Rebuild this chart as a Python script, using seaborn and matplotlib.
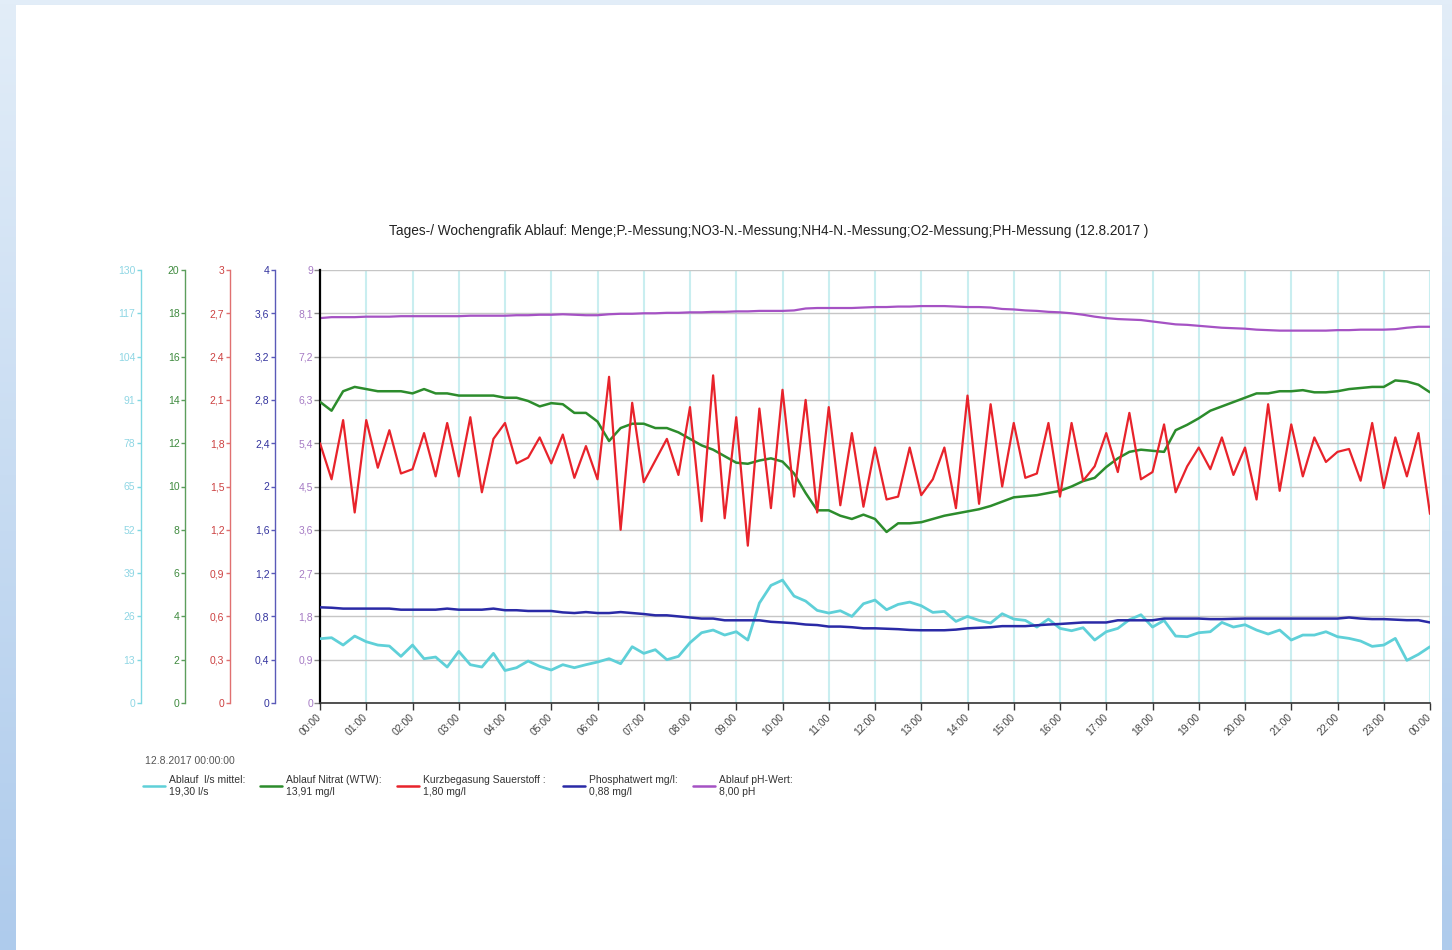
import numpy as np
import pandas as pd
import seaborn as sns
import matplotlib.pyplot as plt
import matplotlib.dates as mdates
from matplotlib.lines import Line2D
from matplotlib.patches import Rectangle
from matplotlib.colors import LinearSegmentedColormap
from matplotlib.ticker import FuncFormatter

# 15-minute readings for 12.8.2017, 00:00 .. 24:00
zeit = pd.date_range("2017-08-12 00:00", periods=97, freq="15min")

ablauf_ls = [19.3, 19.6, 17.4, 20.1, 18.4, 17.4, 17.1, 14.0, 17.4, 13.3,
             13.8, 10.8, 15.5, 11.5, 10.8, 14.9, 9.75, 10.6, 12.6, 11.0,
             9.9, 11.5, 10.6, 11.5, 12.3, 13.3, 11.8, 16.9, 14.9, 16.0,
             13.0, 14.0, 18.1, 21.1, 21.9, 20.4, 21.4, 18.9, 30.0, 35.3,
             36.9, 32.1, 30.6, 27.8, 27.0, 27.7, 26.0, 29.8, 30.9, 28.0,
             29.6, 30.3, 29.2, 27.2, 27.5, 24.5, 26.0, 24.8, 24.0, 26.8,
             25.2, 24.8, 22.8, 25.2, 22.4, 21.7, 22.6, 18.9, 21.4, 22.4,
             25.0, 26.5, 22.8, 24.8, 20.1, 19.9, 21.1, 21.4, 24.2, 22.8,
             23.5, 21.9, 20.7, 21.9, 18.9, 20.4, 20.4, 21.4, 19.9, 19.4,
             18.6, 17.0, 17.4, 19.4, 12.8, 14.6, 16.9]

nitrat = [13.91, 13.5, 14.4, 14.6, 14.5, 14.4, 14.4, 14.4, 14.3, 14.5,
          14.3, 14.3, 14.2, 14.2, 14.2, 14.2, 14.1, 14.1, 13.95, 13.7,
          13.85, 13.8, 13.4, 13.4, 13.0, 12.1, 12.7, 12.9, 12.9, 12.7,
          12.7, 12.5, 12.2, 11.9, 11.7, 11.4, 11.1, 11.05, 11.2, 11.3,
          11.15, 10.6, 9.7, 8.9, 8.9, 8.65, 8.5, 8.7, 8.5, 7.9,
          8.3, 8.3, 8.35, 8.5, 8.65, 8.75, 8.85, 8.95, 9.1, 9.3,
          9.5, 9.55, 9.6, 9.7, 9.8, 10.0, 10.25, 10.4, 10.9, 11.3,
          11.6, 11.7, 11.65, 11.6, 12.6, 12.85, 13.15, 13.5, 13.7, 13.9,
          14.1, 14.3, 14.3, 14.4, 14.4, 14.45, 14.35, 14.35, 14.4, 14.5,
          14.55, 14.6, 14.6, 14.9, 14.85, 14.7, 14.35]

sauerstoff = [1.80, 1.55, 1.96, 1.32, 1.96, 1.63, 1.89, 1.59, 1.62, 1.87,
              1.57, 1.94, 1.57, 1.98, 1.46, 1.83, 1.94, 1.66, 1.70, 1.84,
              1.66, 1.86, 1.56, 1.78, 1.55, 2.26, 1.20, 2.08, 1.53, 1.68,
              1.83, 1.58, 2.05, 1.26, 2.27, 1.28, 1.98, 1.09, 2.04, 1.35,
              2.17, 1.43, 2.10, 1.32, 2.05, 1.37, 1.87, 1.36, 1.77, 1.41,
              1.43, 1.77, 1.44, 1.55, 1.77, 1.35, 2.13, 1.38, 2.07, 1.50,
              1.94, 1.56, 1.59, 1.94, 1.43, 1.94, 1.54, 1.64, 1.87, 1.60,
              2.01, 1.55, 1.60, 1.93, 1.46, 1.64, 1.77, 1.62, 1.84, 1.58,
              1.77, 1.41, 2.07, 1.47, 1.93, 1.57, 1.84, 1.67, 1.74, 1.76,
              1.54, 1.94, 1.49, 1.84, 1.57, 1.87, 1.31]

phosphat = [0.884, 0.88, 0.872, 0.872, 0.872, 0.872, 0.872, 0.862, 0.862, 0.862,
            0.862, 0.872, 0.862, 0.862, 0.862, 0.872, 0.857, 0.857, 0.85, 0.85,
            0.85, 0.837, 0.831, 0.84, 0.831, 0.831, 0.84, 0.831, 0.822, 0.81,
            0.81, 0.80, 0.79, 0.78, 0.78, 0.764, 0.764, 0.764, 0.764, 0.75,
            0.744, 0.737, 0.725, 0.72, 0.706, 0.706, 0.70, 0.69, 0.69, 0.686,
            0.682, 0.675, 0.672, 0.672, 0.672, 0.678, 0.69, 0.695, 0.70, 0.71,
            0.71, 0.71, 0.718, 0.725, 0.73, 0.737, 0.744, 0.744, 0.744, 0.764,
            0.764, 0.764, 0.764, 0.78, 0.78, 0.78, 0.78, 0.775, 0.775, 0.778,
            0.78, 0.78, 0.78, 0.78, 0.78, 0.78, 0.78, 0.78, 0.78, 0.79,
            0.78, 0.775, 0.775, 0.77, 0.765, 0.765, 0.744]

ph_wert = [8.00, 8.02, 8.02, 8.02, 8.03, 8.03, 8.03, 8.04,
           8.04, 8.04, 8.04, 8.04, 8.04, 8.05, 8.05, 8.05,
           8.05, 8.06, 8.06, 8.07, 8.07, 8.08, 8.07, 8.06,
           8.06, 8.08, 8.09, 8.09, 8.10, 8.10, 8.11, 8.11,
           8.12, 8.12, 8.13, 8.13, 8.14, 8.14, 8.15, 8.15,
           8.15, 8.16, 8.20, 8.21, 8.21, 8.21, 8.21, 8.22,
           8.23, 8.23, 8.24, 8.24, 8.25, 8.25, 8.25, 8.24,
           8.23, 8.23, 8.22, 8.19, 8.18, 8.16, 8.15, 8.13,
           8.12, 8.10, 8.07, 8.03, 8.00, 7.98, 7.97, 7.96,
           7.93, 7.90, 7.87, 7.86, 7.84, 7.82, 7.80, 7.79,
           7.78, 7.76, 7.75, 7.74, 7.74, 7.74, 7.74, 7.74,
           7.75, 7.75, 7.76, 7.76, 7.76, 7.77, 7.80, 7.82,
           7.82]

df = pd.DataFrame({"zeit": zeit, "ablauf": ablauf_ls, "nitrat": nitrat,
                   "sauerstoff": sauerstoff, "phosphat": phosphat, "ph": ph_wert})

legend_names = ["Ablauf  l/s mittel:", "Ablauf Nitrat (WTW):", "Kurzbegasung Sauerstoff :",
                "Phosphatwert mg/l:", "Ablauf pH-Wert:"]
legend_units = ["l/s", "mg/l", "mg/l", "mg/l", "pH"]

c_cyan = "#5fd0d8"
c_green = "#2c8c2c"
c_red = "#e8232b"
c_blue = "#2a2aa6"
c_purple = "#a552c4"

sns.set_style("white")
plt.rcParams["font.family"] = ["Liberation Sans", "DejaVu Sans"]

W, H = 1452, 950
fig = plt.figure(figsize=(W / 100, H / 100), dpi=100)

# light blue page frame behind the white sheet
bg = fig.add_axes([0, 0, 1, 1], zorder=-10)
frame_cmap = LinearSegmentedColormap.from_list("frame", ["#e2edf8", "#aecbec"])
bg.imshow(np.linspace(0, 1, 256).reshape(-1, 1), cmap=frame_cmap, aspect="auto",
          extent=[0, 1, 0, 1], origin="upper")
bg.set_xlim(0, 1)
bg.set_ylim(0, 1)
bg.axis("off")
fig.patches.append(Rectangle((16 / W, 0), (1442 - 16) / W, 945 / H, transform=fig.transFigure,
                             facecolor="white", edgecolor="none", zorder=-5))

ax = fig.add_axes([320 / W, (H - 703) / H, 1110 / W, 433 / H])
ax.patch.set_alpha(0)


def fmt(v, pos):
    return f"{round(v, 2):g}".replace(".", ",")


def side_axis(limit, step, off, col, lab_col):
    a = ax.twinx()
    a.set_ylim(0, limit)
    a.set_yticks(np.round(np.arange(0, limit + step / 2, step), 2))
    a.yaxis.set_major_formatter(FuncFormatter(fmt))
    for s in ["right", "top", "bottom"]:
        a.spines[s].set_visible(False)
    a.spines["left"].set_visible(True)
    a.spines["left"].set_position(("axes", off))
    a.spines["left"].set_color(col)
    a.spines["left"].set_linewidth(1)
    a.yaxis.tick_left()
    a.tick_params(axis="y", colors=col, labelcolor=lab_col, labelsize=7.5,
                  length=3, width=1, pad=1, left=True)
    return a


ax_c = side_axis(130, 13, -0.1615, "#7fd8e2", "#8fd6e4")
ax_g = side_axis(20, 2, -0.1216, "#5c9e5c", "#3e8a3e")
ax_r = side_axis(3, 0.3, -0.0811, "#e07070", "#cc4040")
ax_b = side_axis(4, 0.4, -0.0405, "#5a5ab8", "#33339e")

sns.lineplot(data=df, x="zeit", y="ph", ax=ax, color=c_purple, lw=1.6)
sns.lineplot(data=df, x="zeit", y="ablauf", ax=ax_c, color=c_cyan, lw=2)
sns.lineplot(data=df, x="zeit", y="nitrat", ax=ax_g, color=c_green, lw=1.8)
sns.lineplot(data=df, x="zeit", y="sauerstoff", ax=ax_r, color=c_red, lw=1.6)
sns.lineplot(data=df, x="zeit", y="phosphat", ax=ax_b, color=c_blue, lw=1.8)
for a in [ax, ax_c, ax_g, ax_r, ax_b]:
    a.set_xlabel("")
    a.set_ylabel("")

# main pH axis
ax.set_ylim(0, 9)
ax.set_yticks(np.round(np.arange(0, 9.01, 0.9), 1))
ax.yaxis.set_major_formatter(FuncFormatter(fmt))
ax.set_xlim(zeit[0], zeit[-1])
ax.xaxis.set_major_locator(mdates.HourLocator(interval=1))
ax.xaxis.set_major_formatter(mdates.DateFormatter("%H:%M"))
ax.grid(axis="y", color="#c6c6c6", lw=1)
ax.grid(axis="x", color="#c9eef0", lw=1.5)
ax.spines["top"].set_visible(False)
ax.spines["right"].set_visible(False)
ax.spines["left"].set_color("black")
ax.spines["left"].set_linewidth(1.6)
ax.spines["bottom"].set_color("#333333")
ax.spines["bottom"].set_linewidth(1.2)
ax.tick_params(axis="y", colors="#888888", labelcolor="#a57ac4", labelsize=7.5,
               length=4, width=1, pad=1, left=True)
ax.tick_params(axis="x", colors="#333333", labelcolor="#444444", labelsize=7.5,
               length=5, width=1, pad=4, bottom=True)
plt.setp(ax.get_xticklabels(), rotation=45, ha="right", va="center", rotation_mode="anchor")

fig.text(769 / W, 1 - 231 / H,
         "Tages-/ Wochengrafik Ablauf: Menge;P.-Messung;NO3-N.-Messung;NH4-N.-Messung;O2-Messung;PH-Messung (12.8.2017 )",
         ha="center", va="center", fontsize=9.8, color="#222222")

# legend block below the chart
fig.text(145 / W, 1 - 761 / H, "12.8.2017 00:00:00", ha="left", va="center", fontsize=7.5, color="#555555")
series = [ablauf_ls, nitrat, sauerstoff, phosphat, ph_wert]
colors = [c_cyan, c_green, c_red, c_blue, c_purple]
x_handle = [143, 260, 397, 563, 693]
for name, unit, vals, col, xh in zip(legend_names, legend_units, series, colors, x_handle):
    fig.lines.append(Line2D([xh / W, (xh + 22) / W], [1 - 786 / H, 1 - 786 / H],
                            transform=fig.transFigure, color=col, lw=1.8))
    val = f"{vals[0]:.2f}".replace(".", ",")
    fig.text((xh + 26) / W, 1 - 786 / H, f"{name}\n{val} {unit}", ha="left", va="center",
             fontsize=7.5, color="#333333", linespacing=1.2)

fig.savefig("out.png", dpi=100)
